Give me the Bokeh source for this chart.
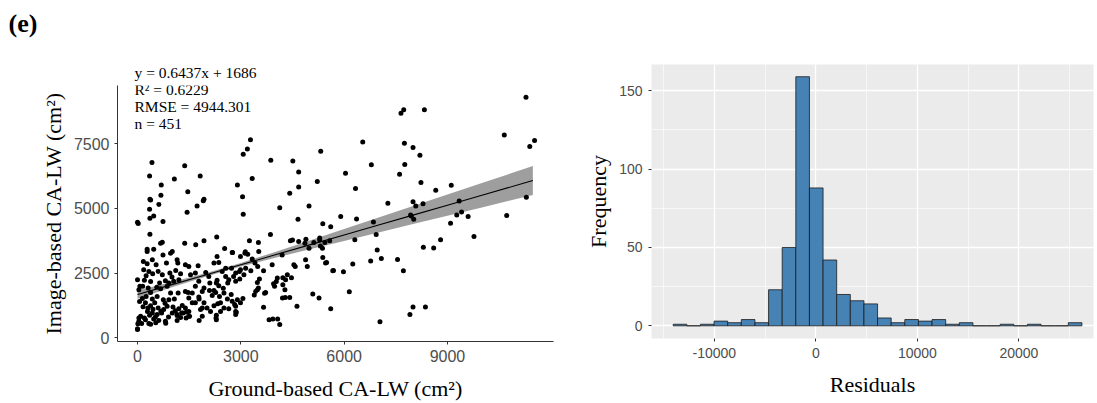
from bokeh.plotting import figure
from bokeh.models import Range1d, FixedTicker, Label
from bokeh.layouts import row, column
from bokeh.embed import file_html
from bokeh.resources import INLINE

# ---------------- scatter data (Ground-based vs Image-based CA-LW, cm^2) ----------------
pts = [
    (3280,7650),(3190,7290),(3070,7090),(420,6770),(1370,6640),(3870,6860),(4510,6830),(5320,7200),
    (350,6250),(1070,6130),(1820,6250),(3330,6150),(4680,6400),(6040,6350),(690,5900),(2900,5900),
    (5220,6040),(1460,5640),(680,5500),(3050,5450),(4420,5580),(4680,5820),(360,5350),(1930,5350),
    (11280,9290),(7730,8810),(7650,8670),(8330,8810),(6540,7560),(10650,7830),(11530,7620),(11390,7390),
    (7750,7510),(8000,7350),(8200,7050),(6790,6680),(7760,6690),(7610,6320),(6330,5770),(8230,6000),
    (8660,5700),(9110,5890),(11290,5430),
    (7270,5200),(8000,5250),(8080,5090),(8290,5180),(9340,5280),(5900,4680),(6360,4590),(6850,4470),
    (6930,3990),(7930,4740),(7950,4700),(8020,4580),(9090,4420),(9270,4740),(9410,4860),(9600,4680),
    (10720,4720),(9770,3910),(5610,4290),(6310,3790),(6960,3390),(7080,3060),(6770,2970),(7550,3020),
    (7720,2590),(8300,3500),(8600,3470),(8800,3790),(6250,2850),(5690,2600),(5980,2550),(6150,1780),
    (8000,1190),(8360,1190),(7910,900),(7040,620),(5610,1120),
    (380,5320),(3070,4770),(4130,5020),(4980,5090),(350,4960),(620,5150),(470,4700),(740,4490),
    (1440,4850),(1730,5090),(1910,5290),(0,4460),(20,4410),(360,4620),(360,4000),(720,3690),
    (670,3650),(280,3420),(470,3420),(1370,3650),(1690,3590),(1930,3750),(2300,3890),(2530,3450),
    (2760,3290),(3130,3320),(3250,3750),(3510,3680),(3520,3330),(3860,3990),(3200,3230),(4440,3750),
    (4500,3780),(4680,3720),(4890,3810),(4880,3010),(5120,3680),(5290,3780),(5370,3460),(5490,2910),
    (5670,2590),(4660,4580),(4540,2820),(4580,2750),(4470,2320),(4220,2320),(3980,1990),(3950,2090),
    (4030,2170),(4210,1540),(4290,1560),(4420,1560),(4630,1220),(5090,1690),(5270,1540),(3660,1180),
    (3820,700),(3930,730),(4130,510),(4070,730),(2870,990),(2820,1290),(3060,1520),(3390,1650),
    (3690,1720),(3540,2270),(3480,1860),(3660,2590),(3490,2750),(3290,2590),(3140,2690),(2960,2560),
    (2790,2370),(2970,2270),(2560,2370),(2620,2120),(2310,2220),(2100,2120),(2490,1910),(2720,1670),
    (2610,1500),(2380,1600),(2330,1320),(2220,1830),(1880,1790),(1790,1500),(1680,1350),(1790,670),
    (2280,770),(2290,870),(2120,1020),(1880,1150),(1420,1000),(1510,830),(1280,960),(1150,860),
    (1150,670),(820,560),(530,580),(380,520),(120,550),(0,350),(10,540),(40,770),
    (200,770),(0,2240),(170,2950),(140,1520),(70,1990),(310,1920),(1010,3330),(1150,3010),
    (280,3330),(740,3200),(960,3270),(280,2860),(430,3010),(540,2820),(840,2890),(1170,2890),
    (1390,2820),(180,2630),(330,2560),(440,2470),(600,2560),(720,2440),(940,2500),(1110,2600),
    (1250,2470),(200,2220),(380,2170),(640,2120),(810,2200),(910,2120),(1050,2180),(1200,2240),
    (40,1860),(150,1990),(380,1750),(670,1890),(860,1990),(960,1730),(1180,1730),(1390,1790),
    (250,1600),(430,1500),(570,1600),(750,1470),(910,1470),(1070,1500),(230,1350),(380,1240),
    (500,1350),(600,1150),(760,1090),(860,1220),(1030,1190),(1200,1120),(1390,1150),(290,1020),
    (430,960),(570,900),(700,960),(1010,960),(1150,900),(1320,960),(90,830),(230,700),
    (470,730),(620,670),(810,640),(40,640),(330,550),(0,320),
    (300,1150),(450,1100),(520,800),(680,1030),(900,800),(1100,1050),(1250,780),(350,870),
    (160,1200),(60,1400),(800,1330),(1300,1250),(560,1950),(1000,2350),(250,2400),
    (2310,3140),(2750,3290),(2990,3140),(2220,2890),(2360,2910),(3120,3270),(1490,2750),(1760,2780),
    (1540,2440),(1680,2500),(1980,2520),(2070,2370),(2460,2560),(2560,2690),(2730,2690),(2850,2500),
    (2990,2630),(3090,2440),(1780,2180),(2290,2120),(2360,2010),(2650,2240),(2850,2180),(1680,1990),
    (1930,1920),(2090,1830),(1470,1750),(1590,1730),(1490,1540),(1780,1580),(2170,1630),(2270,1750),
    (2510,1730),(2750,1410),(2900,1470),(2990,1350),(1590,1350),(1930,1350),(2020,1150),(2220,1240),
    (2410,1350),(2510,1150),(2850,1220),(1490,1020),(1830,1090),(2410,1020),(2650,1120),(2850,1020),
    (1490,830),(1880,830),(2290,700),(1410,770),(2850,900),
    (5380,4400),(4860,3650),(5290,3850),(5310,3550),(5440,3680),(5580,3750),(4980,3460),(3330,3040),
    (3410,2890),(4200,3200),(4930,2750),(5380,3100),(5460,2890),(4350,2440),(3910,2820),(4060,2310),
    (3480,2140),(3510,1920),(3430,1790),(3720,1750),(4220,2050),(4300,2240),(4280,1860),
]
ground_based = [p[0] for p in pts]
image_based = [p[1] for p in pts]

# fitted line and its confidence band
fit_x = [0, 1000, 2000, 3000, 4000, 5000, 6000, 7000, 8000, 9000, 10000, 11480]
fit_y = [1670, 2054, 2437, 2821, 3204, 3588, 3971, 4355, 4738, 5122, 5505, 6073]
band_lo = [1510, 1948, 2372, 2751, 3090, 3418, 3743, 4067, 4390, 4713, 5035, 5513]
band_hi = [1830, 2160, 2502, 2891, 3318, 3758, 4199, 4643, 5086, 5531, 5975, 6633]

stats_lines = ["y = 0.6437x + 1686", "R\u00b2 = 0.6229", "RMSE = 4944.301", "n = 451"]

# ---------------- histogram of residuals ----------------
hist_counts = [1, 0, 1, 3, 2, 4, 2, 23, 50, 159, 88, 42, 20, 16, 14, 5, 2, 4, 3, 4,
               1, 2, 0, 0, 1, 0, 1, 0, 0, 2]
bin_start = -14050
bin_width = 1342
bin_left = [bin_start + i * bin_width for i in range(len(hist_counts))]
bin_right = [b + bin_width for b in bin_left]
hist_xticks = [-10000, 0, 10000, 20000]
hist_xlabels = {-10000: "-10000", 0: "0", 10000: "10000", 20000: "20000"}

SERIF = "Liberation Serif"
SANS = "Liberation Sans"
STRIP_H = 82

# ---------------- top strip (panel tag + first stats line) ----------------
strip = figure(width=570, height=STRIP_H, x_range=Range1d(0, 570), y_range=Range1d(STRIP_H, 0),
               output_backend="svg", toolbar_location=None, title=None,
               x_axis_location=None, y_axis_location=None,
               min_border_left=0, min_border_right=0, min_border_top=0, min_border_bottom=0)
strip.grid.visible = False
strip.outline_line_color = None
strip.frame_align = False
strip.add_layout(Label(x=8, y=23, text="(e)", text_font=SERIF, text_font_size="26px",
                       text_font_style="bold", text_baseline="middle", text_color="black"))
strip.add_layout(Label(x=134, y=72, text=stats_lines[0], text_font=SERIF, text_font_size="15.5px",
                       text_baseline="middle", text_color="black"))

# ---------------- left: scatter ----------------
p1 = figure(width=570, height=403 - STRIP_H, x_range=Range1d(-581, 12079), y_range=Range1d(-142, 9742),
            output_backend="svg", toolbar_location=None, title=None,
            min_border_left=117, min_border_right=17, min_border_top=85 - STRIP_H,
            min_border_bottom=61)
p1.frame_align = False
p1.grid.visible = False
p1.outline_line_color = None

p1.varea(x=fit_x, y1=band_lo, y2=band_hi, fill_color="#9E9E9E", fill_alpha=1.0)
p1.scatter(ground_based, image_based, size=5, color="black", line_color=None)
p1.line(fit_x, fit_y, line_color="black", line_width=1.1)

p1.xaxis.ticker = FixedTicker(ticks=[0, 3000, 6000, 9000])
p1.yaxis.ticker = FixedTicker(ticks=[0, 2500, 5000, 7500])
for ax in (p1.xaxis[0], p1.yaxis[0]):
    ax.axis_line_color = "#333333"
    ax.axis_line_width = 1
    ax.major_tick_line_color = "#333333"
    ax.major_tick_out = 3
    ax.major_tick_in = 0
    ax.minor_tick_line_color = None
    ax.major_label_text_font = SANS
    ax.major_label_text_font_size = "16px"
    ax.major_label_text_color = "#4D4D4D"
    ax.axis_label_text_font = SERIF
    ax.axis_label_text_font_size = "22px"
    ax.axis_label_text_font_style = "normal"
    ax.axis_label_text_color = "black"
p1.xaxis.axis_label = "Ground-based CA-LW (cm\u00b2)"
p1.xaxis.axis_label_standoff = 11
p1.yaxis.axis_label = "Image-based CA-LW (cm\u00b2)"
p1.yaxis.major_label_orientation = "horizontal"

ys = [9577, 8934, 8269]
for t, yy in zip(stats_lines[1:], ys):
    p1.add_layout(Label(x=-87, y=yy, text=t, text_font=SERIF, text_font_size="15.5px",
                        text_baseline="middle", text_color="black"))

# ---------------- right: histogram ----------------
p2 = figure(width=527, height=403, x_range=Range1d(-16187, 27350), y_range=Range1d(-8.1, 166.8),
            output_backend="svg", toolbar_location=None, background_fill_color="#EBEBEB",
            title=None,
            min_border_left=81, min_border_right=4, min_border_top=64, min_border_bottom=65)
p2.frame_align = False
p2.outline_line_color = None
p2.xaxis.ticker = FixedTicker(ticks=hist_xticks,
                              minor_ticks=[-15000, -5000, 5000, 15000, 25000])
p2.xaxis.major_label_overrides = hist_xlabels
p2.yaxis.ticker = FixedTicker(ticks=[0, 50, 100, 150], minor_ticks=[25, 75, 125])
for g in (p2.xgrid[0], p2.ygrid[0]):
    g.grid_line_color = "white"
    g.grid_line_width = 1.3
    g.minor_grid_line_color = "white"
    g.minor_grid_line_width = 0.6

p2.quad(left=bin_left, right=bin_right, bottom=0, top=hist_counts,
        fill_color="#4682B4", line_color="#1A1A1A", line_width=0.8)

for ax in (p2.xaxis[0], p2.yaxis[0]):
    ax.axis_line_color = None
    ax.major_tick_line_color = "#333333"
    ax.major_tick_out = 3
    ax.major_tick_in = 0
    ax.minor_tick_line_color = None
    ax.major_label_text_font = SANS
    ax.major_label_text_font_size = "14px"
    ax.major_label_text_color = "#4D4D4D"
    ax.axis_label_text_font = SERIF
    ax.axis_label_text_font_size = "22px"
    ax.axis_label_text_font_style = "normal"
    ax.axis_label_text_color = "black"
p2.xaxis.axis_label = "Residuals"
p2.xaxis.axis_label_standoff = 11
p2.yaxis.axis_label = "Frequency"
p2.yaxis.major_label_orientation = "horizontal"

layout = row(column(strip, p1, spacing=0), p2, spacing=0)
open("out.html", "w").write(file_html(layout, INLINE))
